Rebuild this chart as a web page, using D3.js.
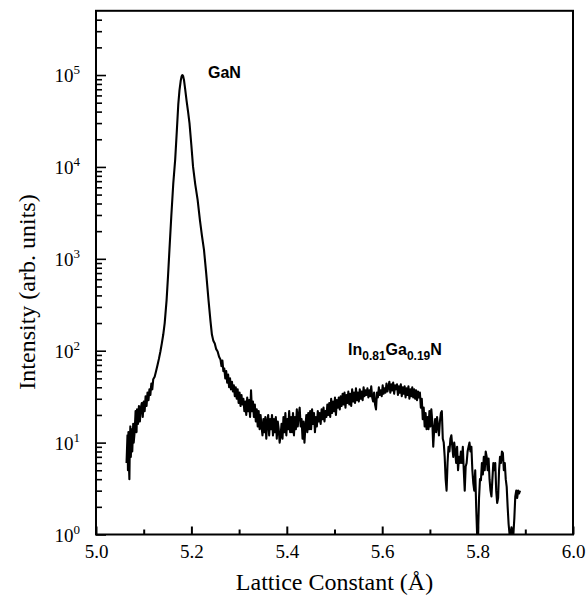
<!DOCTYPE html>
<html><head><meta charset="utf-8">
<script src="https://cdn.jsdelivr.net/npm/d3@7"></script>
<style>body{margin:0;background:#fff}svg{display:block}</style>
</head><body>
<svg id="c" width="588" height="604"></svg>
<script>
const latticeConstant = [
5.064,5.066,5.067,5.068,5.069,5.070,5.071,5.072,5.073,5.075,
5.076,5.078,5.079,5.081,5.083,5.085,5.086,5.088,5.090,5.092,
5.094,5.096,5.098,5.100,5.102,5.104,5.106,5.108,5.110,5.112,
5.114,5.116,5.118,5.120,5.123,5.126,5.129,5.132,5.135,5.138,
5.141,5.144,5.148,5.151,5.154,5.158,5.162,5.166,5.1695,5.1725,
5.175,5.1775,5.1795,5.181,5.1825,5.1845,5.187,5.190,5.193,5.196,
5.200,5.2035,5.208,5.213,5.218,5.222,5.2264,5.231,5.236,5.240,
5.243,5.246,5.249,5.252,5.255,5.258,5.261,5.263,5.265,5.267,
5.269,5.271,5.273,5.275,5.277,5.279,5.281,5.283,5.285,5.287,
5.289,5.291,5.293,5.295,5.297,5.299,5.301,5.303,5.305,5.307,
5.309,5.311,5.313,5.315,5.317,5.319,5.321,5.323,5.325,5.327,
5.329,5.331,5.333,5.335,5.337,5.339,5.341,5.343,5.345,5.347,
5.349,5.351,5.353,5.355,5.357,5.359,5.361,5.363,5.365,5.367,
5.369,5.371,5.373,5.375,5.377,5.379,5.381,5.383,5.385,5.387,
5.389,5.391,5.393,5.395,5.397,5.399,5.401,5.403,5.405,5.407,
5.409,5.411,5.413,5.415,5.417,5.419,5.421,5.423,5.425,5.427,
5.429,5.431,5.433,5.435,5.437,5.439,5.441,5.443,5.445,5.447,
5.449,5.451,5.453,5.455,5.457,5.459,5.461,5.463,5.465,5.467,
5.469,5.471,5.473,5.475,5.477,5.479,5.481,5.483,5.485,5.487,
5.489,5.491,5.493,5.495,5.497,5.499,5.501,5.503,5.505,5.507,
5.509,5.511,5.513,5.515,5.517,5.519,5.521,5.523,5.525,5.527,
5.529,5.531,5.533,5.535,5.537,5.539,5.541,5.543,5.545,5.547,
5.549,5.551,5.553,5.555,5.557,5.559,5.561,5.563,5.565,5.567,
5.569,5.571,5.573,5.575,5.577,5.579,5.581,5.583,5.585,5.587,
5.589,5.591,5.593,5.595,5.597,5.599,5.601,5.603,5.605,5.607,
5.609,5.611,5.613,5.615,5.617,5.619,5.621,5.623,5.625,5.627,
5.629,5.631,5.633,5.635,5.637,5.639,5.641,5.643,5.645,5.647,
5.649,5.651,5.653,5.655,5.657,5.659,5.661,5.663,5.665,5.667,
5.669,5.671,5.673,5.675,5.677,5.679,5.681,5.683,5.685,5.687,
5.689,5.691,5.693,5.695,5.697,5.699,5.701,5.703,5.705,5.707,
5.709,5.711,5.713,5.715,5.717,5.719,5.721,5.723,5.725,5.727,
5.729,5.731,5.733,5.735,5.737,5.739,5.741,5.743,5.745,5.747,
5.749,5.751,5.753,5.755,5.757,5.759,5.761,5.763,5.765,5.767,
5.769,5.771,5.773,5.775,5.777,5.779,5.781,5.783,5.785,5.787,
5.789,5.791,5.793,5.795,5.797,5.799,5.801,5.803,5.805,5.807,
5.809,5.811,5.813,5.815,5.817,5.819,5.821,5.823,5.825,5.827,
5.829,5.831,5.833,5.835,5.837,5.839,5.841,5.843,5.845,5.847,
5.849,5.851,5.853,5.855,5.857,5.859,5.861,5.863,5.865,5.867,
5.869,5.871,5.873,5.875,5.877,5.879,5.881,5.883,5.885,5.887,
5.889
];
const intensity = [
6,12,5,13,6,4,10,15,7,14,
8,16,10,13,22,13,23,16,25,17,
24,27,19,28,22,32,25,35,29,38,
33,44,38,49,52,60,70,82,98,120,
150,200,355,650,1260,3000,6600,12000,25000,48000,
68000,86000,97000,100000,98000,88000,70000,52000,40000,30000,
17000,10000,6500,4400,2600,1800,1250,700,350,210,
150,128,120,104,98,86,80,68,78,60,
64,50,60,45,55,40,50,38,46,36,
42,32,40,30,38,27,35,25,33,26,
30,22,28,20,31,22,29,19,37,22,
28,19,26,17,23,15,22,14,20,15,
12,18,13,19,11,17,20,12,18,14,
20,12,18,13,19,11,17,14,10,12,
16,11,19,13,21,12,18,14,22,13,
19,13,21,12,19,14,23,15,20,24,
15,18,11,17,10,15,20,13,21,14,
22,14,23,16,21,13,19,15,22,17,
21,16,23,18,24,17,22,19,26,20,
27,19,30,21,28,22,31,20,29,24,
31,23,32,25,34,26,35,24,33,27,
36,26,34,25,38,28,35,27,39,29,
35,28,38,30,36,29,40,32,37,33,
39,31,37,32,41,31,28,35,26,23,
35,31,40,33,37,32,42,34,39,35,
44,36,40,46,35,43,37,45,34,42,
38,43,33,41,35,43,32,40,34,41,
31,39,33,41,30,38,32,40,31,38,
30,37,29,36,31,35,24,30,18,24,
15,21,14,19,14,22,15,23,17,9,
14,18,13,19,15,12,17,21,22,11,
10,7,4,3,6,9,8,11,12,9,
7,10,8,6,9,5,7,6,8,6,
9,5,3,5.5,6,8,9,10,8,9,
5,3.6,3,5,2,1,1,2.5,4,3.9,
6,4.5,7,5,8,7,5,6.7,4,3,
2.6,4,6,5,6,3,2.2,2.5,5,7,
6,8,7.7,5,6,4,3.3,2,1.3,1,
1,1.2,1,1,1.5,2.6,3,2.5,3,2.8,
3
];
const xMajorTicks = [5.0,5.2,5.4,5.6,5.8,6.0];
const xMinorTicks = [5.1,5.3,5.5,5.7,5.9];
const yDecades = [0,1,2,3,4,5];
const yMinorMultipliers = [2,3,4,5,6,7,8,9];

const svg = d3.select("#c");
const L=96, R=573, T=10.8, B=534.5;
const x = d3.scaleLinear().domain([5.0,6.0]).range([L,R]);
const y = d3.scaleLog().domain([1,5e5]).range([B,T]);

svg.append("defs").append("clipPath").attr("id","clip")
  .append("rect").attr("x",L).attr("y",T).attr("width",R-L).attr("height",B-T);

const data = latticeConstant.map((d,i)=>({x:d,y:intensity[i]}));
svg.append("path").datum(data)
  .attr("clip-path","url(#clip)")
  .attr("fill","none").attr("stroke","#000").attr("stroke-width",2.1)
  .attr("stroke-linejoin","round")
  .attr("d", d3.line().x(d=>x(d.x)).y(d=>y(d.y)));

// frame
svg.append("rect").attr("x",L).attr("y",T).attr("width",R-L).attr("height",B-T)
  .attr("fill","none").attr("stroke","#000").attr("stroke-width",2);

const serif = "'Liberation Serif','Times New Roman',serif";
// x axis
const gx = svg.append("g").attr("transform",`translate(0,${B})`);
gx.call(d3.axisBottom(x).tickValues(xMajorTicks).tickSize(-8).tickPadding(10).tickFormat(d3.format(".1f")));
gx.append("g").call(d3.axisBottom(x).tickValues(xMinorTicks).tickSize(-5).tickFormat(""));
gx.selectAll(".domain").remove();
gx.selectAll(".tick line").attr("stroke","#000").attr("stroke-width",2);
gx.selectAll(".tick text").attr("font-family",serif).attr("font-size",19).attr("fill","#000");

// y axis
const yMinor = [];
yDecades.forEach(d=>yMinorMultipliers.forEach(m=>{const v=m*Math.pow(10,d); if(v<5e5) yMinor.push(v);}));
const gy = svg.append("g").attr("transform",`translate(${L},0)`);
gy.call(d3.axisLeft(y).tickValues(yDecades.map(d=>Math.pow(10,d))).tickSize(-10).tickPadding(14).tickFormat(""));
gy.append("g").call(d3.axisLeft(y).tickValues(yMinor).tickSize(-6).tickFormat(""));
gy.selectAll(".domain").remove();
gy.selectAll(".tick line").attr("stroke","#000").attr("stroke-width",1.6);
yDecades.forEach(d=>{
  const t = svg.append("text").attr("x",L-16).attr("y",y(Math.pow(10,d))+7)
    .attr("text-anchor","end").attr("font-family",serif).attr("font-size",19).attr("fill","#000");
  t.append("tspan").text("10");
  t.append("tspan").attr("dy",-8).attr("font-size",13).text(d);
});

// titles
svg.append("text").attr("x",(L+R)/2).attr("y",590).attr("text-anchor","middle")
  .attr("font-family",serif).attr("font-size",24).attr("fill","#000").text("Lattice Constant (Å)");
svg.append("text").attr("transform",`translate(35,292) rotate(-90)`).attr("text-anchor","middle")
  .attr("font-family",serif).attr("font-size",24).attr("fill","#000").text("Intensity (arb. units)");

// annotations
const sans = "'Liberation Sans',Arial,sans-serif";
svg.append("text").attr("x",208).attr("y",78).attr("font-family",sans).attr("font-weight","bold")
  .attr("font-size",16).attr("fill","#000").text("GaN");
const a = svg.append("text").attr("x",348).attr("y",355).attr("font-family",sans).attr("font-weight","bold")
  .attr("font-size",16).attr("fill","#000");
a.append("tspan").text("In");
a.append("tspan").attr("dy",5).attr("font-size",12).text("0.81");
a.append("tspan").attr("dy",-5).text("Ga");
a.append("tspan").attr("dy",5).attr("font-size",12).text("0.19");
a.append("tspan").attr("dy",-5).text("N");
</script>
</body></html>
